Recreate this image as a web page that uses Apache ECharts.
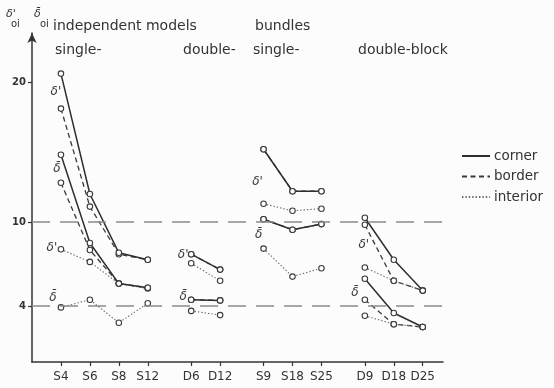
<!DOCTYPE html>
<html>
<head>
<meta charset="utf-8">
<script src="https://cdn.jsdelivr.net/npm/echarts@6/dist/echarts.min.js"></script>
<style>
  html, body { margin: 0; padding: 0; background: #fcfcfc; }
  #chart { width: 554px; height: 388px; }
</style>
</head>
<body>
<div id="chart"></div>
<script>
// Model groups along the horizontal axis, in drawing order
const categoryGroups = [
  ['S4', 'S6', 'S8', 'S12'],
  ['D6', 'D12'],
  ['S9', 'S18', 'S25'],
  ['D9', 'D18', 'D25']
];
const headerTop = ['independent models', 'bundles'];
const headerSub = ['single-', 'double-', 'single-', 'double-block'];
const yTicks = [4, 10, 20];
const refLines = [4, 10];

// delta'_oi values (corner / border / interior), one entry per category
const dPrimeCorner   = [20.6, 12.0, 7.8, 7.3,  7.7, 6.6,  15.2, 12.2, 12.2,  10.3, 7.3, 5.1];
const dPrimeBorder   = [18.1, 11.1, 7.7, 7.3,  7.7, 6.6,  15.2, 12.2, 12.2,   9.8, 5.8, 5.1];
const dPrimeInterior = [8.05, 7.15, 5.6, 5.25, 7.05, 5.8, 11.3, 10.8, 10.95,  6.75, 5.8, 5.1];
// delta-bar_oi values (corner / border / interior)
const dBarCorner     = [14.8, 8.5, 5.6, 5.3,  4.45, 4.4, 10.2, 9.45, 9.85,  5.95, 3.5, 2.5];
const dBarBorder     = [12.8, 8.0, 5.6, 5.3,  4.45, 4.4, 10.2, 9.45, 9.85,  4.45, 2.7, 2.5];
const dBarInterior   = [3.9, 4.45, 2.8, 4.2,  3.65, 3.35, 8.1, 6.1, 6.7,    3.3, 2.7, 2.5];

const FONT = 'DejaVu Sans';
const INK = '#333';

// Slot index of each category on the x scale: two slots per step, three between groups
const categories = [];
const slots = [];
const groupOf = [];
let slot = 2;
categoryGroups.forEach((g, gi) => {
  g.forEach(c => { categories.push(c); slots.push(slot); groupOf.push(gi); slot += 2; });
  slot += 1;
});

const lineStyles = {
  corner:   { color: '#2e2e2e', width: 1.5, type: 'solid' },
  border:   { color: '#3a3a3a', width: 1.3, type: [5, 3.5] },
  interior: { color: '#6a6a6a', width: 1.1, type: [1.4, 2] }
};

const curves = [
  { key: 'dPrime', name: 'corner',   values: dPrimeCorner },
  { key: 'dPrime', name: 'border',   values: dPrimeBorder },
  { key: 'dPrime', name: 'interior', values: dPrimeInterior },
  { key: 'dBar',   name: 'corner',   values: dBarCorner },
  { key: 'dBar',   name: 'border',   values: dBarBorder },
  { key: 'dBar',   name: 'interior', values: dBarInterior }
];

const DP = "\u03b4'";
const DB = "\u03b4\u0304";
// Greek tags written next to the first point of some curves: [curve, group, text, offset]
const tags = [
  [0, 0, DP, [-5, 18]], [3, 0, DB, [-4, 14]], [2, 0, DP, [-9, -1]], [5, 0, DB, [-8, -10]],
  [0, 1, DP, [-8, 1]],  [3, 1, DB, [-8, -3]],
  [0, 2, DP, [-6, 33]], [3, 2, DB, [-5, 16]],
  [0, 3, DP, [-1, 27]], [3, 3, DB, [-10, 14]]
];

const series = [];
curves.forEach((cv, ci) => {
  categoryGroups.forEach((g, gi) => {
    const data = [];
    categories.forEach((c, i) => {
      if (groupOf[i] !== gi) return;
      const item = { value: [slots[i], cv.values[i]] };
      if (data.length === 0) {
        const t = tags.find(t => t[0] === ci && t[1] === gi);
        if (t) {
          item.label = {
            show: true, position: 'inside', offset: t[3], formatter: t[2],
            fontFamily: FONT, fontSize: 12, fontStyle: 'italic', color: '#3a3a3a'
          };
        }
      }
      data.push(item);
    });
    series.push({
      type: 'line',
      name: cv.name,
      data: data,
      symbol: 'circle',
      symbolSize: 5.5,
      lineStyle: lineStyles[cv.name],
      itemStyle: { color: '#ffffff', borderColor: '#3a3a3a', borderWidth: 1.1 },
      emphasis: { disabled: true },
      z: cv.name === 'corner' ? 4 : 3
    });
  });
});

// Dashed reference levels
series[0].markLine = {
  silent: true,
  symbol: ['none', 'none'],
  label: { show: false },
  lineStyle: { color: '#8a8a8a', width: 1.6, type: [18, 10] },
  data: refLines.map(v => ({ yAxis: v }))
};

const textStyle = { fontFamily: FONT, fontSize: 14, fontWeight: 'normal', color: '#333' };
const titles = [
  { text: headerTop[0], left: 53, top: 19 },
  { text: headerTop[1], left: 255, top: 19 },
  { text: headerSub[0], left: 55, top: 43 },
  { text: headerSub[1], left: 183, top: 43 },
  { text: headerSub[2], left: 253, top: 43 },
  { text: headerSub[3], left: 358, top: 43 }
].map(t => Object.assign({ padding: 0, textStyle: textStyle }, t));

const chart = echarts.init(document.getElementById('chart'));
chart.setOption({
  backgroundColor: '#fcfcfc',
  animation: false,
  title: titles,
  grid: { left: 32, right: 111, top: 33, bottom: 26 },
  legend: {
    orient: 'vertical',
    left: 461, top: 149,
    padding: 0,
    itemWidth: 28, itemHeight: 10, itemGap: 6.5,
    selectedMode: false,
    itemStyle: { opacity: 0 },
    textStyle: { fontFamily: FONT, fontSize: 13.5, color: '#333', padding: [0, 0, 0, -1] },
    data: ['corner', 'border', 'interior']
  },
  graphic: [
    { type: 'text', left: 6, top: 9, style: { text: DP, font: 'italic 11px "DejaVu Sans"', fill: '#333' } },
    { type: 'text', left: 11, top: 19, style: { text: 'oi', font: '10px "DejaVu Sans"', fill: '#333' } },
    { type: 'text', left: 34, top: 9, style: { text: DB, font: 'italic 11px "DejaVu Sans"', fill: '#333' } },
    { type: 'text', left: 40, top: 19, style: { text: 'oi', font: '10px "DejaVu Sans"', fill: '#333' } }
  ],
  xAxis: {
    type: 'value', min: 0, max: 28.4,
    axisLine: { show: true, lineStyle: { color: INK, width: 1.5 } },
    axisTick: { show: true, customValues: slots, length: 4, lineStyle: { color: INK, width: 1.2 } },
    axisLabel: {
      customValues: slots,
      formatter: v => categories[slots.indexOf(v)] || '',
      fontFamily: FONT, fontSize: 12, color: INK, margin: 9
    },
    splitLine: { show: false }
  },
  yAxis: {
    type: 'value', min: 0, max: 23.5,
    axisLine: { show: true, symbol: ['none', 'arrow'], symbolSize: [7, 10], lineStyle: { color: INK, width: 1.5 } },
    axisTick: { show: true, customValues: yTicks, length: 4, lineStyle: { color: INK, width: 1.2 } },
    axisLabel: { customValues: yTicks, fontFamily: FONT, fontSize: 10, fontWeight: 'bold', color: INK, margin: 6 },
    splitLine: { show: false }
  },
  series: series
});
</script>
</body>
</html>
